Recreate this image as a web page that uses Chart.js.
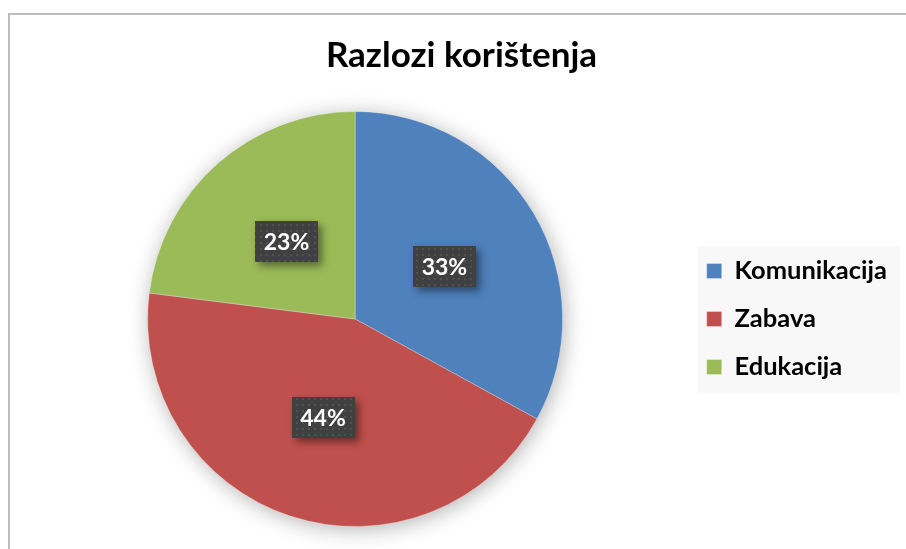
<!DOCTYPE html>
<html>
<head>
<meta charset="utf-8">
<script src="https://cdn.jsdelivr.net/npm/chart.js@4.4.1/dist/chart.umd.min.js"></script>
<style>
  body { margin: 0; background: #fff; overflow: hidden; }
  .frame { position: absolute; left: 8px; top: 13px; width: 1000px; height: 1000px;
           border-left: 2px solid #bdbdbd; border-top: 2px solid #bdbdbd; }
  .wrap { position: absolute; left: 0; top: 0; width: 906px; height: 549px; }
</style>
</head>
<body>
<div class="frame"></div>
<div class="wrap"><canvas id="reasonsChart"></canvas></div>
<script>
const categories = ['Komunikacija', 'Zabava', 'Edukacija'];
const shares = [33, 44, 23];
const sliceColors = ['#4F81BD', '#C0504D', '#9BBB59'];

// dotted fill used on the label boxes
const dotTile = document.createElement('canvas');
dotTile.width = 6;
dotTile.height = 6;
const dctx = dotTile.getContext('2d');
dctx.fillStyle = 'rgba(255,255,255,0.09)';
dctx.fillRect(2, 2, 2, 2);

// soft shadow under the whole pie
const pieShadow = {
    id: 'pieShadow',
    beforeDatasetsDraw(chart) {
        const arc = chart.getDatasetMeta(0).data[0];
        if (!arc) return;
        const ctx = chart.ctx;
        ctx.save();
        ctx.shadowColor = 'rgba(0,0,0,0.32)';
        ctx.shadowBlur = 22;
        ctx.shadowOffsetX = 2;
        ctx.shadowOffsetY = 3;
        ctx.fillStyle = '#999';
        ctx.beginPath();
        ctx.arc(arc.x, arc.y, arc.outerRadius - 1, 0, Math.PI * 2);
        ctx.fill();
        ctx.restore();
    }
};

// light grey panel behind the legend
const legendPanel = {
    id: 'legendPanel',
    beforeDraw(chart) {
        const boxes = chart.legend && chart.legend.legendHitBoxes;
        if (!boxes || !boxes.length) return;
        const first = boxes[0];
        const last = boxes[boxes.length - 1];
        const width = Math.max(...boxes.map(b => b.width));
        const ctx = chart.ctx;
        ctx.save();
        ctx.fillStyle = '#f8f8f8';
        ctx.fillRect(first.left - 9, first.top - 12, width + 22, last.top + last.height - first.top + 25);
        ctx.restore();
    }
};

// percentage labels in dark boxes
const labelBoxes = {
    id: 'labelBoxes',
    afterDatasetsDraw(chart) {
        const ctx = chart.ctx;
        const meta = chart.getDatasetMeta(0);
        const pattern = ctx.createPattern(dotTile, 'repeat');
        ctx.save();
        ctx.font = 'bold 23px Lato';
        ctx.textAlign = 'center';
        ctx.textBaseline = 'middle';
        meta.data.forEach((arc, i) => {
            const p = arc.getCenterPoint();
            const w = 63, h = 41;
            const x = Math.round(p.x - w / 2), y = Math.round(p.y - h / 2);
            ctx.save();
            ctx.shadowColor = 'rgba(0,0,0,0.45)';
            ctx.shadowBlur = 8;
            ctx.shadowOffsetX = 4;
            ctx.shadowOffsetY = 4;
            ctx.fillStyle = '#404040';
            ctx.fillRect(x, y, w, h);
            ctx.restore();
            ctx.fillStyle = pattern;
            ctx.fillRect(x, y, w, h);
            ctx.fillStyle = '#ffffff';
            ctx.fillText(shares[i] + '%', p.x, p.y + 1);
        });
        ctx.restore();
    }
};

const ctxReasons = document.getElementById('reasonsChart').getContext('2d');
new Chart(ctxReasons, {
    type: 'pie',
    data: {
        labels: categories,
        datasets: [{
            data: shares,
            backgroundColor: sliceColors,
            borderColor: 'rgba(255,255,255,0.3)',
            borderWidth: 1
        }]
    },
    options: {
        responsive: true,
        maintainAspectRatio: false,
        animation: false,
        layout: {
            padding: { top: 14, left: 26, right: 9, bottom: 22 }
        },
        plugins: {
            title: {
                display: true,
                text: 'Razlozi korištenja',
                color: '#000',
                font: { family: 'Lato', size: 35, weight: 'bold' },
                padding: { top: 21, bottom: 34 }
            },
            legend: {
                position: 'right',
                fullSize: false,
                labels: {
                    color: '#000',
                    boxWidth: 15,
                    boxHeight: 15,
                    padding: 22.5,
                    font: { family: 'Lato', size: 25.5, weight: 'bold' }
                }
            },
            tooltip: { enabled: false }
        }
    },
    plugins: [pieShadow, legendPanel, labelBoxes]
});
</script>
</body>
</html>
